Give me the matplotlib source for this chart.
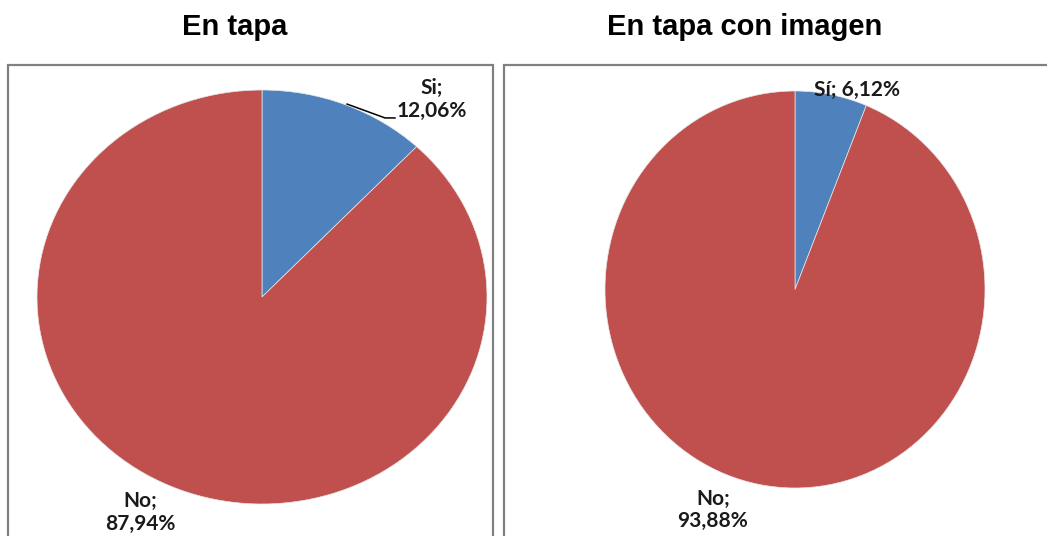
import matplotlib
matplotlib.use("Agg")
import matplotlib.pyplot as plt
from matplotlib.patches import Rectangle

W, H = 1047, 536

titles = ["En tapa", "En tapa con imagen"]
categories = [["Si", "No"], ["Sí", "No"]]
values = [[12.06, 87.94], [6.12, 93.88]]
colors = ["#4F81BD", "#C0504D"]

fig = plt.figure(figsize=(W / 100, H / 100), dpi=100)
fig.patch.set_facecolor("white")

def fx(px):
    return px / W

def fy(py):
    return 1 - py / H

# frames (cut off at bottom / right like the reference)
frame_c = "#808080"
fig.add_artist(Rectangle((fx(8), -0.1), fx(493) - fx(8), fy(65) + 0.1,
                         transform=fig.transFigure, fill=False,
                         edgecolor=frame_c, linewidth=1.6))
fig.add_artist(Rectangle((fx(504), -0.1), 0.6, fy(65) + 0.1,
                         transform=fig.transFigure, fill=False,
                         edgecolor=frame_c, linewidth=1.6))

# pie geometries in pixels: (cx, cy, rx, ry)
geoms = [(262, 297, 225, 207), (795, 289.5, 190, 198.5)]
title_x = [235, 745]

lab_font = dict(family=["Lato", "DejaVu Sans"], fontweight="bold",
                fontsize=15, color="#1a1a1a")

for i, (cx, cy, rx, ry) in enumerate(geoms):
    ax = fig.add_axes([fx(cx - rx), fy(cy + ry), (2 * rx) / W, (2 * ry) / H])
    ax.pie(values[i], colors=colors, startangle=90, counterclock=False,
           radius=1, wedgeprops=dict(linewidth=0.5, edgecolor="#e8e8e8"))
    ax.set_xlim(-1, 1)
    ax.set_ylim(-1, 1)
    ax.set_aspect("auto")
    ax.axis("off")
    fig.text(fx(title_x[i]), fy(27), titles[i], ha="center", va="center",
             family=["Liberation Sans", "DejaVu Sans"], fontweight="bold",
             fontsize=21)

    def pct(v):
        return f"{v:.2f}".replace(".", ",") + "%"

    if i == 0:
        ax.text(0.755, 0.955, f"{categories[i][0]};\n{pct(values[i][0])}",
                ha="center", va="center", linespacing=1.15, clip_on=False,
                **lab_font)
        ax.plot([0.378, 0.547, 0.591], [0.932, 0.865, 0.865],
                color="black", linewidth=1.1, clip_on=False)
        ax.text(-0.542, -1.04, f"{categories[i][1]};\n{pct(values[i][1])}",
                ha="center", va="center", linespacing=1.15, clip_on=False,
                **lab_font)
    else:
        ax.text(0.326, 1.005, f"{categories[i][0]}; {pct(values[i][0])}",
                ha="center", va="center", clip_on=False, **lab_font)
        ax.text(-0.432, -1.11, f"{categories[i][1]};\n{pct(values[i][1])}",
                ha="center", va="center", linespacing=1.15, clip_on=False,
                **lab_font)

fig.savefig("out.png", dpi=100)
